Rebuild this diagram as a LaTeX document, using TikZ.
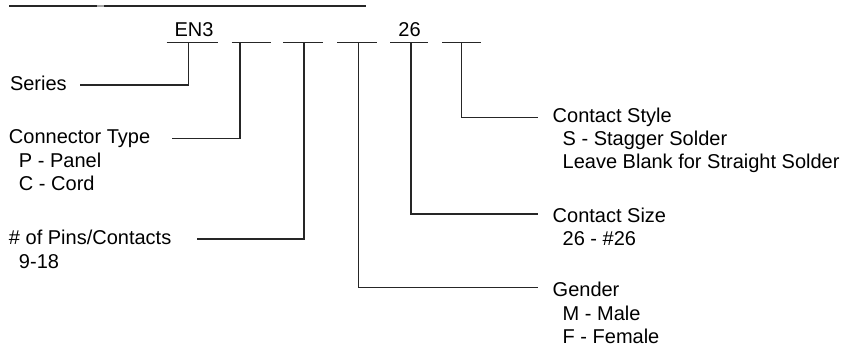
\documentclass[tikz,border=0pt]{standalone}
\usepackage{fontspec}
\setmainfont{Liberation Sans}
\begin{document}
\begin{tikzpicture}[x=1pt,y=-1pt,
  lbl/.style={anchor=base west,inner sep=0pt,outer sep=0pt,font=\fontsize{20}{24}\selectfont},
  code/.style={anchor=base,inner sep=0pt,outer sep=0pt,font=\fontsize{20}{24}\selectfont},
  wire/.style={draw=black!85,line width=1.1pt},
  slot/.style={draw=black!85,line width=1.1pt}]
\useasboundingbox (0,0) rectangle (844,350);
% top rule
\draw[wire] (9,6) -- (97,6);
\draw[draw=black!35,line width=1.1pt] (97,6) -- (104,6);
\draw[wire] (104,6) -- (366,6);
% code fields
\node[code] (en3) at (194,36.7) {EN3};
\node[code] (c26) at (409.5,36.7) {26};
\coordinate (u1a) at (166.7,42.3); \coordinate (u1b) at (217.7,42.3);
\coordinate (u2a) at (231.7,42.3); \coordinate (u2b) at (271,42.3);
\coordinate (u3a) at (283.3,42.3); \coordinate (u3b) at (322.7,42.3);
\coordinate (u4a) at (337.3,42.3); \coordinate (u4b) at (376.7,42.3);
\coordinate (u5a) at (390,42.3); \coordinate (u5b) at (428.3,42.3);
\coordinate (u6a) at (442.3,42.3); \coordinate (u6b) at (480.7,42.3);
\foreach \i in {1,...,6} {\draw[slot] (u\i a) -- (u\i b);}
\coordinate (s1) at (188.3,42.3);
\coordinate (s2) at (240,42.3);
\coordinate (s3) at (304,42.3);
\coordinate (s4) at (358.3,42.3);
\coordinate (s5) at (411,42.3);
\coordinate (s6) at (461.7,42.3);
% left labels
\node[lbl] (series) at (10,91) {Series};
\coordinate (e1) at (80,85);
\node[lbl] (ctype) at (9,143.3) {Connector Type};
\node[lbl] (ctp) at (19,167.3) {P - Panel};
\node[lbl] (ctc) at (19,190.5) {C - Cord};
\coordinate (e2) at (172.3,138.3);
\node[lbl] (pins) at (9,244) {\# of Pins/Contacts};
\node[lbl] (pinsv) at (19,268.3) {9-18};
\coordinate (e3) at (197.3,239);
% right labels
\node[lbl] (gender) at (552.7,296.7) {Gender};
\node[lbl] (gm) at (562.7,320) {M - Male};
\node[lbl] (gf) at (562.7,343.5) {F - Female};
\coordinate (e4) at (538,287.3);
\node[lbl] (csize) at (552.7,222.5) {Contact Size};
\node[lbl] (csv) at (562.7,245.7) {26 - \#26};
\coordinate (e5) at (538,214);
\node[lbl] (cstyle) at (552.7,122.7) {Contact Style};
\node[lbl] (css) at (562.7,145.5) {S - Stagger Solder};
\node[lbl] (csl) at (562.7,168.5) {Leave Blank for Straight Solder};
\coordinate (e6) at (538,117.3);
% connectors
\draw[wire] (s1) |- (e1);
\draw[wire] (s2) |- (e2);
\draw[wire] (s3) |- (e3);
\draw[wire] (s4) |- (e4);
\draw[wire] (s5) |- (e5);
\draw[wire] (s6) |- (e6);
\end{tikzpicture}
\end{document}
